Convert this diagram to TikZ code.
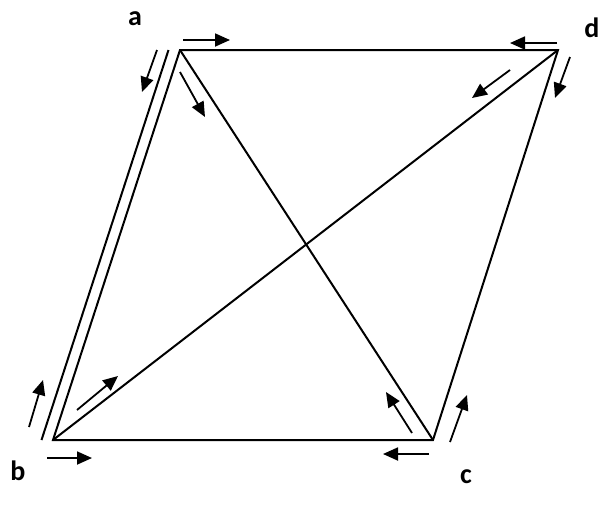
\documentclass[tikz,border=0pt]{standalone}
\usepackage{fontspec}
\setmainfont{Carlito}
\usetikzlibrary{arrows.meta}

\begin{document}
\begin{tikzpicture}[x=1pt, y=-1pt, line width=2pt,
    lbl/.style={font=\fontsize{28}{30}\selectfont\bfseries, anchor=base, inner sep=0pt},
    flow/.style={-{Triangle[length=15pt,width=13pt]}, line width=1.8pt}]
    \useasboundingbox (0,0) rectangle (602,523);
    % corners
    \coordinate (a) at (180,50);
    \coordinate (d) at (558,50);
    \coordinate (b) at (53,440);
    \coordinate (c) at (433,440);
    \node[lbl] (la) at (135,25) {a};
    \node[lbl] (ld) at (592,37) {d};
    \node[lbl] (lb) at (18,480) {b};
    \node[lbl] (lc) at (466,483) {c};
    % sides and diagonals
    \draw (a) -- (d) -- (c) -- (b) -- cycle;
    \draw ([xshift=-11.5pt]a) -- ([xshift=-11.5pt]b);
    \draw (a) -- (c);
    \draw (b) -- (d);
    % small arrows
    \draw[flow] (183,40) -- (230,40);
    \draw[flow] (157,50) -- (142,92);
    \draw[flow] (180,72) -- (205,117);
    \draw[flow] (557,43) -- (510,43);
    \draw[flow] (510,70) -- (472,98);
    \draw[flow] (570,57) -- (555,98);
    \draw[flow] (29,427) -- (43,380);
    \draw[flow] (77,410) -- (118,376);
    \draw[flow] (47,458) -- (92,458);
    \draw[flow] (412,433) -- (386,392);
    \draw[flow] (450,442) -- (467,395);
    \draw[flow] (429,454) -- (383,454);
\end{tikzpicture}
\end{document}
